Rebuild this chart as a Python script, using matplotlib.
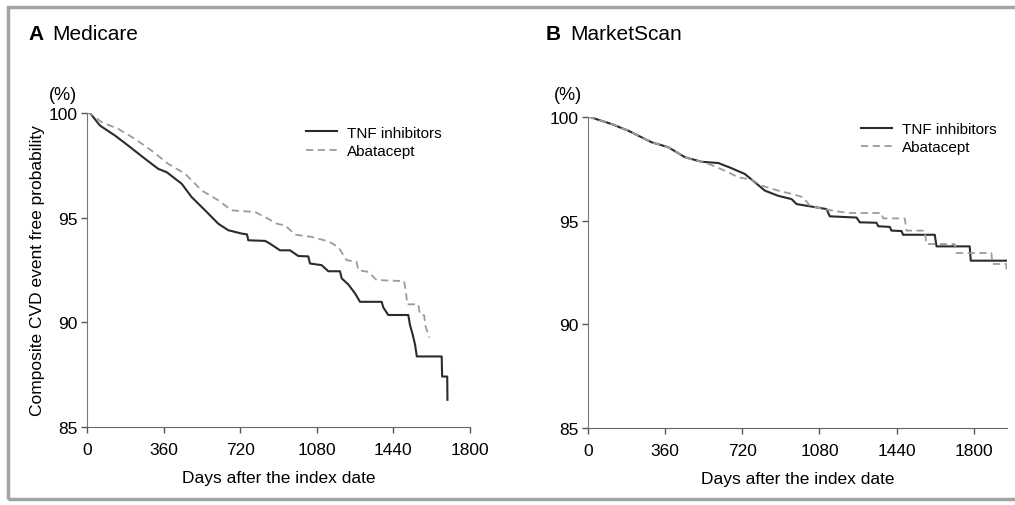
import matplotlib
matplotlib.use("Agg")
import matplotlib.pyplot as plt
import matplotlib.patches as patches

plt.rcParams['font.family'] = ['Liberation Sans', 'DejaVu Sans']

# Panel A, Medicare: days after index date vs event free probability (%)
med_tnf_days = [0, 14, 61, 132, 194, 273, 335, 375, 445, 492, 555, 617, 664, 727, 752, 758,
                837, 860, 907, 954, 993, 1040, 1048, 1103, 1134, 1189, 1197, 1228, 1260,
                1283, 1385, 1393, 1416, 1510, 1518, 1531, 1542, 1550, 1667, 1669, 1693, 1694]
med_tnf_surv = [100, 100, 99.4, 98.92, 98.44, 97.81, 97.33, 97.17, 96.62, 95.98, 95.35,
                94.71, 94.4, 94.24, 94.2, 93.92, 93.89, 93.76, 93.44, 93.44, 93.17, 93.15,
                92.81, 92.73, 92.44, 92.44, 92.1, 91.81, 91.38, 90.98, 90.98, 90.7, 90.35,
                90.35, 89.87, 89.4, 88.92, 88.37, 88.37, 87.41, 87.41, 86.3]

med_aba_days = [0, 14, 69, 147, 226, 304, 382, 461, 539, 617, 680, 790, 837, 892, 931, 978,
                1056, 1134, 1181, 1205, 1220, 1267, 1275, 1322, 1361, 1490, 1499, 1505,
                1557, 1565, 1585, 1589, 1609]
med_aba_surv = [100, 100, 99.56, 99.24, 98.76, 98.2, 97.57, 97.1, 96.3, 95.83, 95.35, 95.27,
                95.03, 94.71, 94.63, 94.19, 94.08, 93.87, 93.6, 93.21, 92.97, 92.89, 92.49,
                92.41, 92.02, 91.97, 91.46, 90.86, 90.86, 90.38, 90.33, 89.87, 89.27]

# Panel B, MarketScan
ms_tnf_days = [0, 9, 110, 188, 297, 375, 452, 530, 608, 670, 732, 779, 825, 887, 950, 973,
               1113, 1128, 1253, 1268, 1346, 1354, 1408, 1416, 1463, 1470, 1618, 1626, 1781,
               1786, 1958]
ms_tnf_surv = [100, 100, 99.66, 99.34, 98.78, 98.54, 98.06, 97.84, 97.78, 97.53, 97.25,
               96.85, 96.45, 96.2, 96.04, 95.8, 95.56, 95.21, 95.15, 94.92, 94.9, 94.73,
               94.7, 94.52, 94.5, 94.32, 94.32, 93.76, 93.76, 93.07, 93.07]

ms_aba_days = [0, 9, 110, 188, 297, 375, 452, 530, 577, 639, 701, 763, 810, 887, 950, 1004,
               1035, 1113, 1214, 1369, 1377, 1478, 1486, 1571, 1579, 1711, 1719, 1882, 1887,
               1952, 1954]
ms_aba_surv = [100, 100, 99.66, 99.34, 98.78, 98.54, 98.06, 97.84, 97.68, 97.41, 97.09,
               96.98, 96.69, 96.45, 96.29, 96.13, 95.72, 95.53, 95.37, 95.37, 95.11, 95.11,
               94.52, 94.52, 93.87, 93.87, 93.44, 93.44, 92.91, 92.91, 92.45]

xticks = [0, 360, 720, 1080, 1440, 1800]
yticks = [85, 90, 95, 100]

tnf_color = '#2b2b2b'
aba_color = '#9c9c9c'

fig = plt.figure(figsize=(10.15, 5.06), dpi=100)

# grey frame around the whole figure
frame = patches.Rectangle((8 / 1015, 6 / 506), 1.2, 1 - 14 / 506, transform=fig.transFigure,
                          fill=False, edgecolor='#a3a3a3', linewidth=2.5)
fig.patches.append(frame)

ax1 = fig.add_axes([87 / 1015, 1 - 428 / 506, 383 / 1015, 314 / 506])
ax2 = fig.add_axes([588 / 1015, 1 - 429 / 506, 419 / 1015, 311 / 506])

for ax, tnf_d, tnf_s, aba_d, aba_s in [(ax1, med_tnf_days, med_tnf_surv, med_aba_days, med_aba_surv),
                                       (ax2, ms_tnf_days, ms_tnf_surv, ms_aba_days, ms_aba_surv)]:
    ax.plot(tnf_d, tnf_s, color=tnf_color, linewidth=1.5, label='TNF inhibitors')
    ax.plot(aba_d, aba_s, color=aba_color, linewidth=1.3, dashes=(4, 2.5), label='Abatacept')

for ax, xmax in [(ax1, 1800), (ax2, 1955)]:
    ax.set_xlim(0, xmax)
    ax.set_ylim(85, 100)
    ax.set_xticks(xticks)
    ax.set_yticks(yticks)
    ax.tick_params(labelsize=12.5, length=4, width=1, color='#555555')
    ax.tick_params(axis='x', pad=7)
    ax.tick_params(axis='y', pad=3)
    for side in ['top', 'right']:
        ax.spines[side].set_visible(False)
    ax.spines['left'].set_color('#777777')
    ax.spines['bottom'].set_color('#666666')
    ax.set_xlabel('Days after the index date', fontsize=12.5, labelpad=9)

ax1.set_ylabel('Composite CVD event free probability', fontsize=12.5, labelpad=2)

ax1.legend(loc='upper left', bbox_to_anchor=(0.556, 0.979), frameon=False, fontsize=11,
           handlelength=2.0, handletextpad=0.7, labelspacing=0.3, borderaxespad=0)
ax2.legend(loc='upper left', bbox_to_anchor=(0.637, 1.004), frameon=False, fontsize=11,
           handlelength=2.0, handletextpad=0.7, labelspacing=0.3, borderaxespad=0)

fig.text(77 / 1015, 1 - 95 / 506, '(%)', fontsize=13, ha='right', va='center')
fig.text(582 / 1015, 1 - 95 / 506, '(%)', fontsize=13, ha='right', va='center')

fig.text(28 / 1015, 1 - 35 / 506, 'A', fontsize=15, fontweight='bold', va='center')
fig.text(52 / 1015, 1 - 35 / 506, 'Medicare', fontsize=15, va='center')
fig.text(546 / 1015, 1 - 34 / 506, 'B', fontsize=15, fontweight='bold', va='center')
fig.text(570 / 1015, 1 - 34 / 506, 'MarketScan', fontsize=15, va='center')

fig.savefig('out.png', dpi=100)
